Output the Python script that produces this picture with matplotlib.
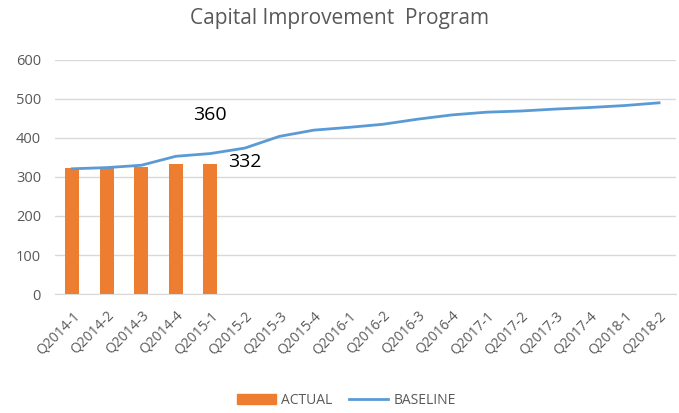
import numpy as np
import matplotlib
matplotlib.use('Agg')
import matplotlib.pyplot as plt
import matplotlib.transforms as mtransforms
from matplotlib.patches import Patch
from matplotlib.lines import Line2D

plt.rcParams['font.family'] = ['Open Sans', 'DejaVu Sans']

quarters = ['Q2014-1', 'Q2014-2', 'Q2014-3', 'Q2014-4', 'Q2015-1', 'Q2015-2',
            'Q2015-3', 'Q2015-4', 'Q2016-1', 'Q2016-2', 'Q2016-3', 'Q2016-4',
            'Q2017-1', 'Q2017-2', 'Q2017-3', 'Q2017-4', 'Q2018-1', 'Q2018-2']
actual = [323, 323, 326, 332, 332]
baseline = [321, 324, 330, 353, 360, 374, 404, 420, 427, 435, 448, 459,
            466, 469, 474, 478, 483, 490]
yticks = [0, 100, 200, 300, 400, 500, 600]

grey = '#595959'
fig = plt.figure(figsize=(6.79, 4.13), dpi=100)
ax = fig.add_axes((0.081, 0.288, 0.915, 0.567))

x = np.arange(len(quarters))
ax.bar(x[:len(actual)], actual, width=0.4, color='#ED7D31', zorder=2)
ax.plot(x, baseline, color='#5B9BD5', lw=2, zorder=3)

ax.set_xlim(-0.5, len(quarters) - 0.5)
ax.set_ylim(0, 600)
ax.set_yticks(yticks)
ax.grid(axis='y', color='#d9d9d9', lw=1, zorder=0)
for s in ['top', 'right', 'left']:
    ax.spines[s].set_visible(False)
ax.spines['bottom'].set_color('#d9d9d9')
ax.tick_params(length=0, colors=grey, labelsize=10.5)
ax.tick_params(axis='y', pad=10)
ax.tick_params(axis='x', pad=14, labelsize=10)
ax.set_xticks(x)
ax.set_xticklabels(quarters, rotation=45, ha='right', va='center',
                   rotation_mode='anchor')
# nudge labels so their ends sit just right of each tick, like the original
shift = mtransforms.ScaledTranslation(5 / 100, 0, fig.dpi_scale_trans)
for lbl in ax.get_xticklabels():
    lbl.set_transform(lbl.get_transform() + shift)

# data labels
ax.text(4, 458, '360', ha='center', va='center', fontsize=14, color='black')
ax.text(5, 338, '332', ha='center', va='center', fontsize=14, color='black')

fig.text(0.5, 0.955, 'Capital Improvement  Program', ha='center', va='center',
         fontsize=15, color=grey)

handles = [Patch(color='#ED7D31'), Line2D([], [], color='#5B9BD5', lw=2)]
fig.legend(handles, ['ACTUAL', 'BASELINE'], loc='center', ncol=2,
           bbox_to_anchor=(0.51, 0.03), frameon=False, fontsize=10,
           labelcolor=grey, handlelength=2.8, columnspacing=1.2,
           handletextpad=0.4)

fig.savefig('out.png', dpi=100)
